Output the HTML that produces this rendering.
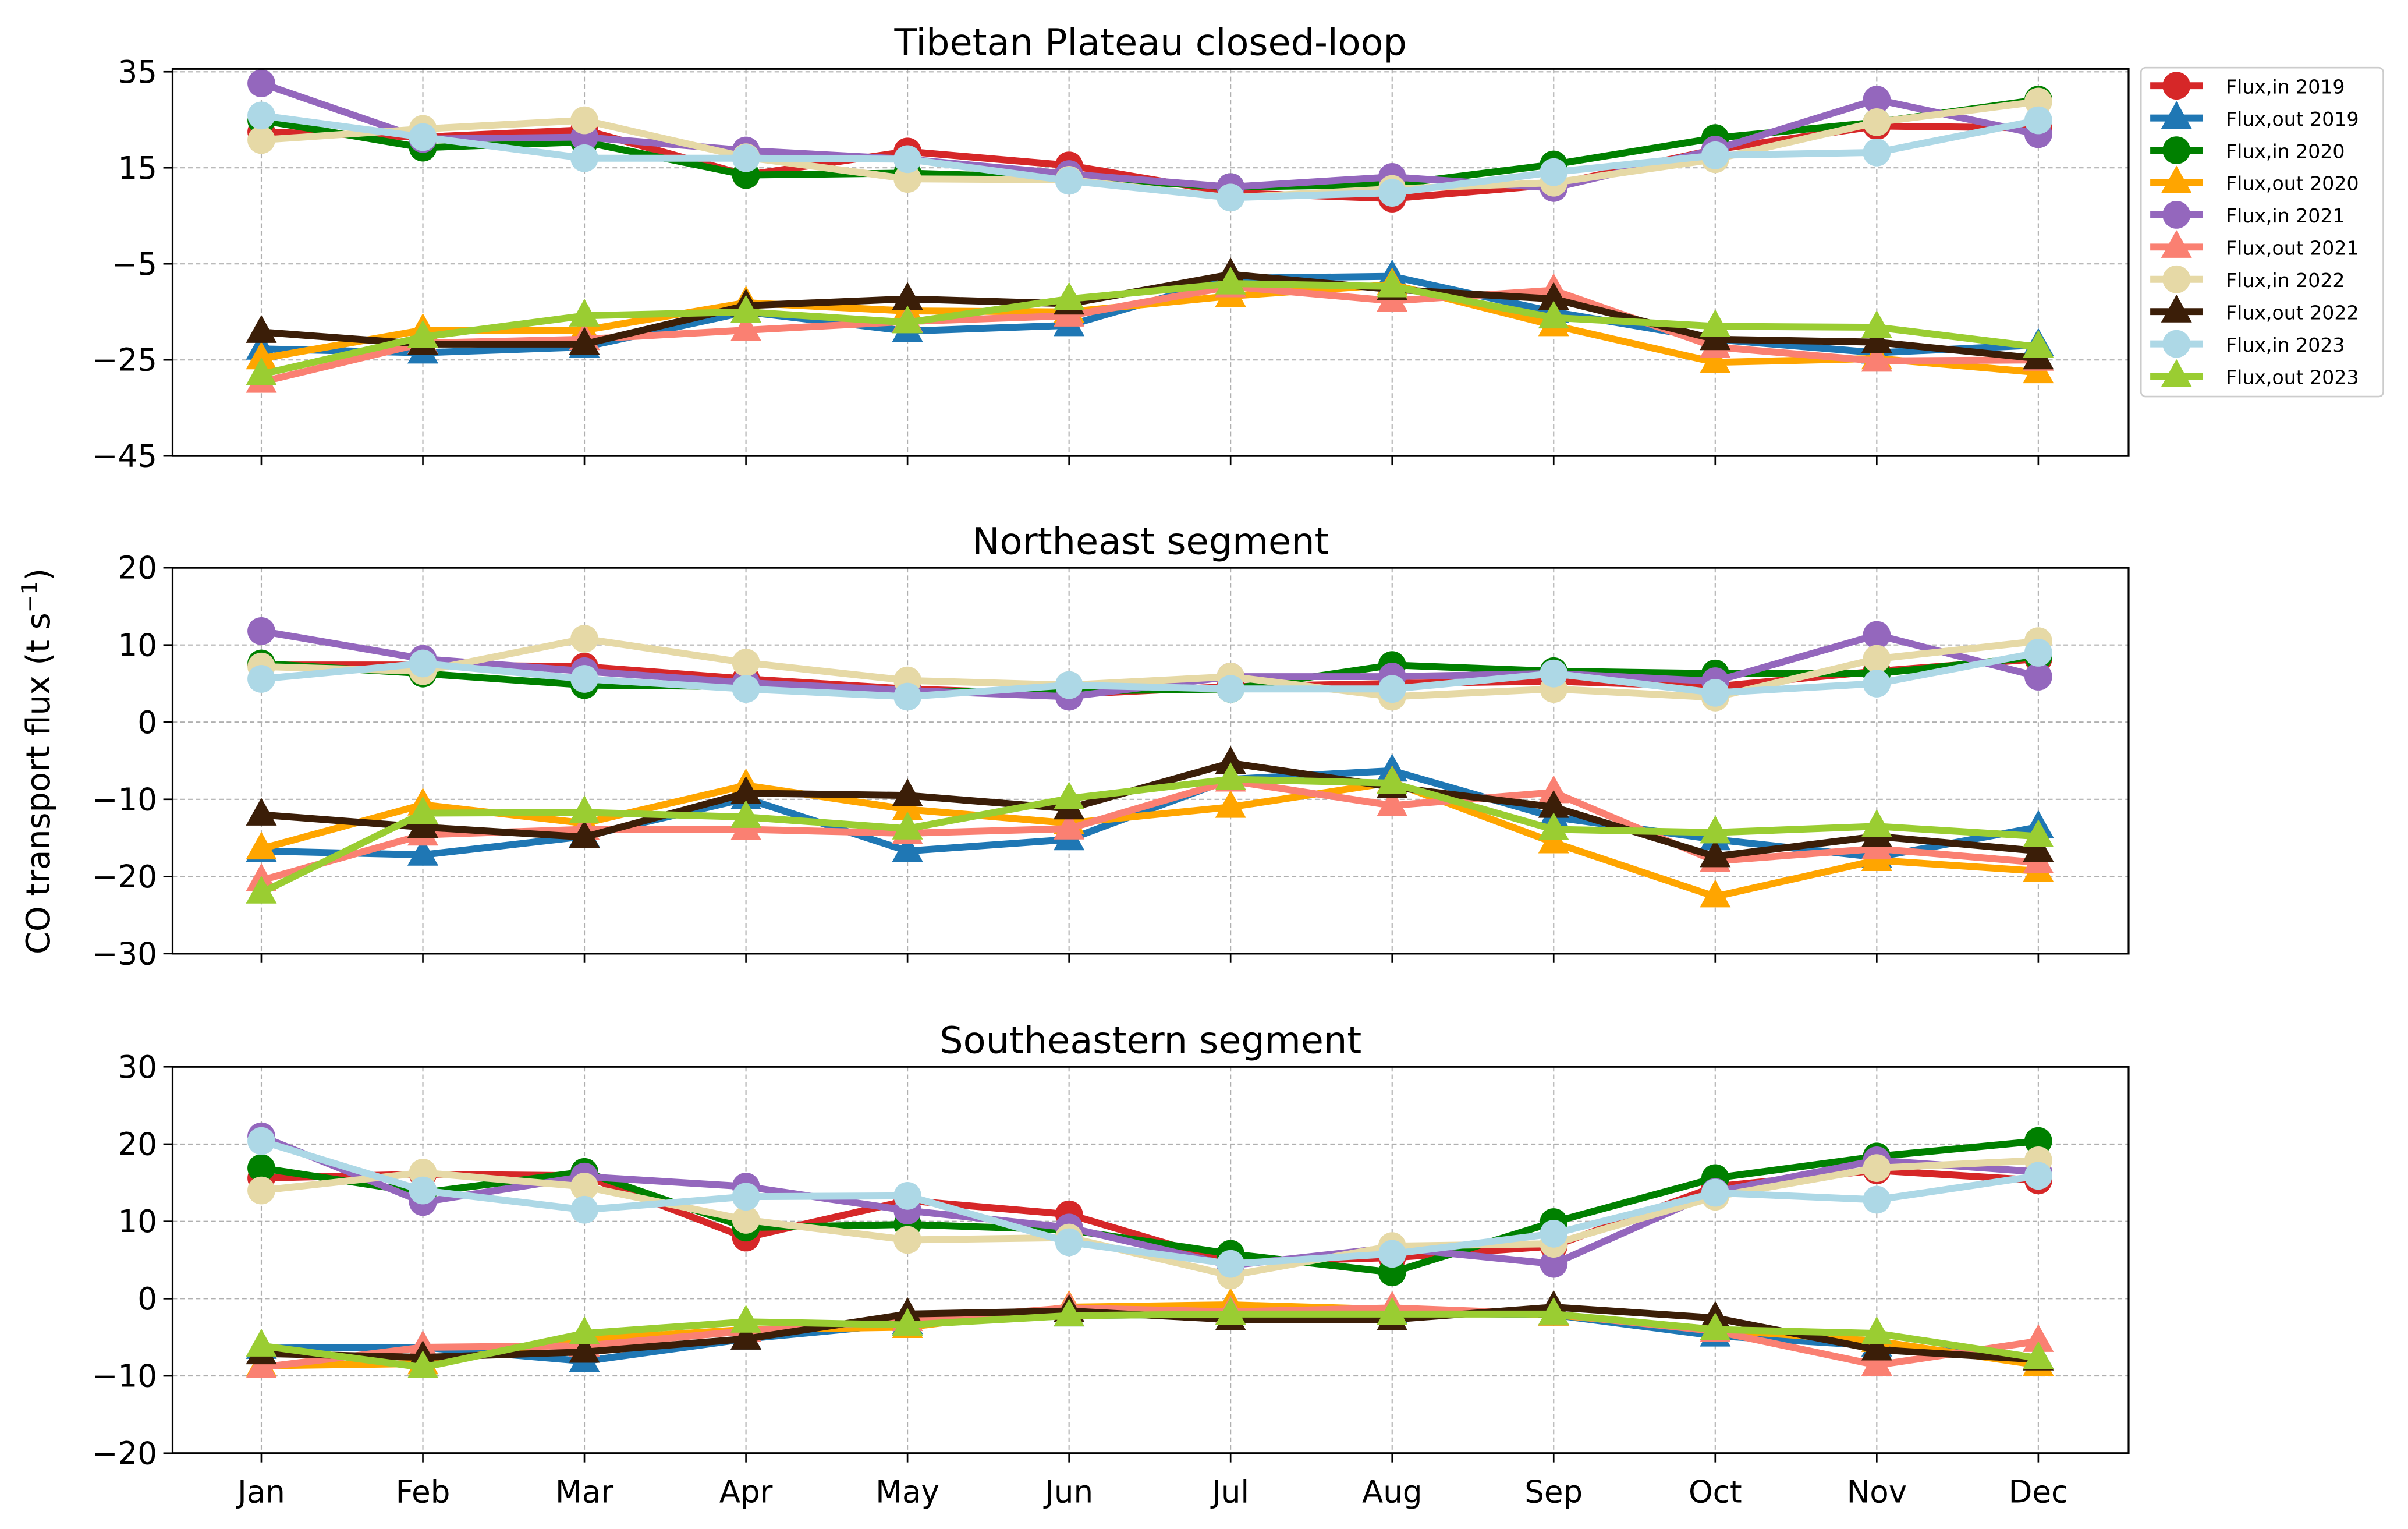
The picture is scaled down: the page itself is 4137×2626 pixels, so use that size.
<!DOCTYPE html>
<html><head><meta charset="utf-8"><style>
html,body{margin:0;padding:0;background:#fff}
svg{display:block;font-family:"DejaVu Sans","Liberation Sans",sans-serif}
</style></head><body>
<svg id="chart" width="4137" height="2626" viewBox="0 0 1560 990.2" xmlns="http://www.w3.org/2000/svg">
<rect width="1560" height="990.2" fill="#fff"/>
<text x="32" y="493" font-size="21" text-anchor="middle" transform="rotate(-90 32 493)">CO transport flux (t s<tspan dy="-8" font-size="14">−1</tspan><tspan dy="8">)</tspan></text>
</svg>
<script>
const months = ["Jan","Feb","Mar","Apr","May","Jun","Jul","Aug","Sep","Oct","Nov","Dec"];
const seriesNames = ["Flux,in 2019","Flux,out 2019","Flux,in 2020","Flux,out 2020","Flux,in 2021","Flux,out 2021","Flux,in 2022","Flux,out 2022","Flux,in 2023","Flux,out 2023"];
const seriesColors = ["#d62728","#1f77b4","#008000","#ffa500","#9467bd","#fa8072","#e6d9a6","#3b1e08","#add8e6","#9acd32"];
const panelTitles = ["Tibetan Plateau closed-loop","Northeast segment","Southeastern segment"];
const ticks1 = [35,15,-5,-25,-45];
const ticks2 = [20,10,0,-10,-20,-30];
const ticks3 = [30,20,10,0,-10,-20];
const p1 = [
[22.5,21.4,22.9,13.5,18.4,15.5,9.8,8.6,11.5,18.8,23.7,23.3],
[-22.7,-23.5,-22.3,-15,-19,-17.8,-8,-7.6,-15,-20.7,-23.5,-21.9],
[24.9,19.2,20.4,13.5,13.9,12.9,11,11.5,15.7,21.2,24.5,29.2],
[-24.7,-18.8,-18.8,-13.1,-14.8,-15,-11.7,-9.3,-17.8,-25.5,-24.7,-27.6],
[32.6,21,21.4,18.6,16.8,13.7,11,13.1,10.8,18.8,29.2,22],
[-29.6,-21.5,-20.7,-18.8,-17,-15.8,-9.7,-12.7,-10.5,-22.3,-25.2,-25],
[20.8,23.1,24.9,17.2,12.7,12.5,8.8,10.6,11.9,16.8,24.5,28.8],
[-19.2,-21.7,-21.7,-13.7,-12.3,-13.3,-7.2,-10.3,-12.3,-20.7,-21.3,-24.7],
[25.9,21.4,17,17,16.8,12.3,8.8,9.8,14.1,17.6,18.2,24.9],
[-28,-20.2,-15.8,-15,-17.2,-12.3,-9.1,-9.7,-16.2,-18,-18.2,-22.3]];
const p2 = [
[7.4,7.4,7.2,5.6,4.3,3.6,4.6,5,5.3,4.6,6.6,8.2],
[-16.7,-17.2,-14.8,-9.9,-16.7,-15.2,-7.4,-6.3,-12.3,-15.2,-17.5,-13.6],
[7.6,6.3,4.8,4.6,4,4,4.3,7.4,6.6,6.3,6.3,8.5],
[-16.4,-10.7,-13.1,-8.2,-11.3,-13.1,-11,-7.8,-15.6,-22.6,-17.9,-19.3],
[11.8,8.2,6.6,5.1,4.1,3.3,5.9,5.9,6.3,5.3,11.3,5.9],
[-20.5,-14.6,-13.9,-13.9,-14.4,-13.8,-7.6,-10.8,-9.1,-18,-16.4,-18.2],
[7.2,6.6,10.8,7.7,5.4,4.8,5.9,3.3,4.3,3.2,8.2,10.5],
[-12,-13.6,-14.9,-9.2,-9.5,-11.2,-5.3,-8.4,-11,-17.4,-14.8,-16.7],
[5.6,7.6,5.6,4.3,3.3,4.8,4.3,4.3,6.3,3.8,5,9],
[-22.1,-11.8,-11.7,-12.3,-13.8,-9.9,-7.4,-7.9,-13.9,-14.3,-13.5,-14.8]];
const p3 = [
[15.6,16.1,15.9,7.9,12.7,10.9,4.7,5.3,6.8,14.5,16.6,15.3],
[-6.4,-6.3,-8.1,-5.2,-3.2,-2.2,-2,-1.8,-2.1,-4.8,-6.1,-7.7],
[16.9,13.7,16.4,9.2,9.6,8.9,5.8,3.4,9.9,15.6,18.4,20.4],
[-8.7,-8.4,-5.3,-4,-3.7,-1.1,-0.8,-1.4,-2.1,-4,-5.5,-8.6],
[21,12.5,15.8,14.5,11.4,9.2,4.3,6.6,4.5,13.8,17.9,16.4],
[-8.9,-6.3,-6.1,-4.2,-2.8,-1.2,-1.7,-1.2,-2,-4.2,-8.6,-5.5],
[14,16.3,14.5,10.2,7.6,7.9,3,6.8,7.1,13.2,16.9,17.9],
[-7.1,-7.6,-6.9,-5.2,-2,-1.6,-2.7,-2.7,-1.1,-2.5,-6.6,-7.9],
[20.4,14,11.5,13.2,13.3,7.3,4.5,5.8,8.4,13.7,12.8,15.9],
[-6.1,-8.9,-4.5,-3,-3.4,-2.2,-2,-2,-2,-4,-4.5,-7.7]];

const NS="http://www.w3.org/2000/svg";
const svg=document.getElementById('chart');
function mk(tag,attrs,parent){const e=document.createElementNS(NS,tag);for(const k in attrs)e.setAttribute(k,attrs[k]);(parent||svg).appendChild(e);return e;}
const X0=111.8,X1=1379;
function xS(i){return 169.3+i*(1320.5-169.3)/11;}
const panels=[
 {data:p1,ticks:ticks1,top:44.6,bot:295.3,ymin:-45,ymax:35.6},
 {data:p2,ticks:ticks2,top:367.7,bot:617.6,ymin:-30,ymax:20},
 {data:p3,ticks:ticks3,top:690.9,bot:941.1,ymin:-20,ymax:30}];
panels.forEach((P,pi)=>{
 const g=mk('g',{});
 
 
 const yS=v=>P.bot-(v-P.ymin)/(P.ymax-P.ymin)*(P.bot-P.top);
 P.ticks.forEach(t=>{const y=yS(t);
  const l=mk('line',{x1:X0,x2:X1,y1:y,y2:y,stroke:'#b0b0b0','stroke-width':0.8,'stroke-dasharray':'3,2'},g);
  
  mk('line',{x1:X0-6,x2:X0,y1:y,y2:y,stroke:'#000','stroke-width':1},g);
  const tx=mk('text',{x:X0-10,y:y+7,'font-size':20,'text-anchor':'end'},g);
  
  tx.textContent=t<0?'\u2212'+(-t):String(t);
 });
 months.forEach((m,i)=>{const x=xS(i);
  const l=mk('line',{x1:x,x2:x,y1:P.top,y2:P.bot,stroke:'#b0b0b0','stroke-width':0.8,'stroke-dasharray':'3,2'},g);
  
  mk('line',{x1:x,x2:x,y1:P.bot,y2:P.bot+6,stroke:'#000','stroke-width':1},g);
  if(pi===2){const tx=mk('text',{x:x,y:P.bot+32,'font-size':20,'text-anchor':'middle'},g);
   tx.textContent=m;}
 });
 const tt=mk('text',{x:(X0+X1)/2,y:P.top-9,'font-size':24,'text-anchor':'middle'},g);
 
 tt.textContent=panelTitles[pi];
 P.data.forEach((vals,si)=>{
  const c=seriesColors[si];
  const pts=vals.map((v,i)=>xS(i)+','+yS(v)).join(' ');
  const pl=mk('polyline',{points:pts,fill:'none',stroke:c,'stroke-width':4.5,'stroke-linejoin':'round'},g);
  
  vals.forEach((v,i)=>{const x=xS(i),y=yS(v);let m;
   if(si%2===0) m=mk('circle',{cx:x,cy:y,r:9,fill:c},g);
   else m=mk('polygon',{points:`${x},${y-11} ${x-10},${y+7} ${x+10},${y+7}`,fill:c},g);
   
  });
 });
 const fr=mk('rect',{x:X0,y:P.top,width:X1-X0,height:P.bot-P.top,fill:'none',stroke:'#000','stroke-width':1.2},g);
 
});
const lg=mk('g',{});

const lb=mk('rect',{x:1387,y:43.8,width:157,height:213,rx:3,fill:'#fff',stroke:'#ccc','stroke-width':1},lg);

seriesNames.forEach((n,i)=>{const y=55.5+i*20.9;const c=seriesColors[i];
 const e=mk('g',{},lg);
 
 mk('line',{x1:1393,x2:1427,y1:y,y2:y,stroke:c,'stroke-width':4.5},e);
 if(i%2===0) mk('circle',{cx:1410,cy:y,r:9,fill:c},e);
 else mk('polygon',{points:`1410,${y-11} 1400,${y+7} 1420,${y+7}`,fill:c},e);
 const t=mk('text',{x:1442,y:y+5,'font-size':12.5},e);t.textContent=n;
});
</script>
</body></html>
